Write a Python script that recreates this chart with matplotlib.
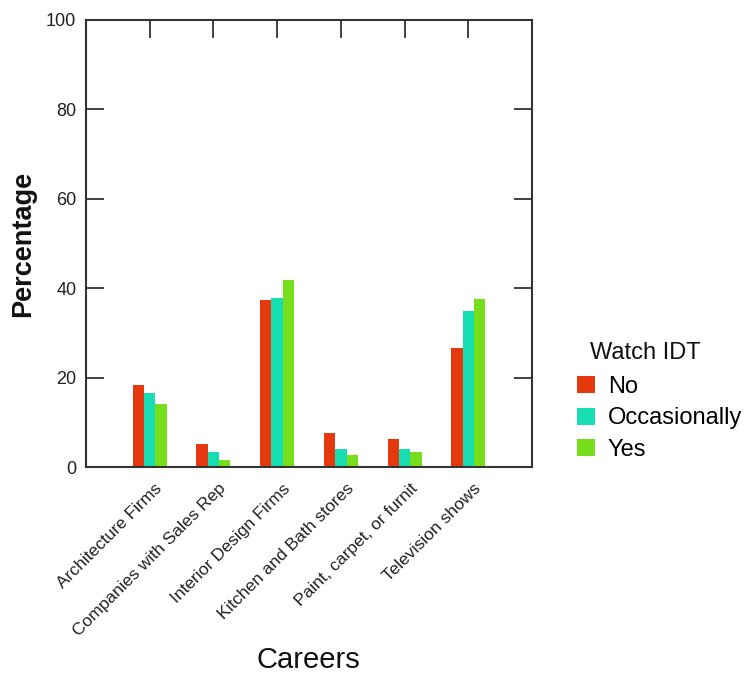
import numpy as np
import matplotlib
matplotlib.use("Agg")
import matplotlib.pyplot as plt
from matplotlib.patches import Patch
import matplotlib.transforms as mtransforms

categories = ["Architecture Firms", "Companies with Sales Rep", "Interior Design Firms",
              "Kitchen and Bath stores", "Paint, carpet, or furnit", "Television shows"]
series_names = ["No", "Occasionally", "Yes"]
no_vals = [18.3, 5.2, 37.3, 7.6, 6.2, 26.6]
occ_vals = [16.5, 3.3, 37.9, 4.1, 4.1, 35.0]
yes_vals = [14.0, 1.6, 41.8, 2.7, 3.3, 37.5]
yticks = [0, 20, 40, 60, 80, 100]
colors = ["#E6380E", "#16DEB2", "#76DE1A"]

plt.rcParams['font.family'] = ['Liberation Sans', 'DejaVu Sans']
fig = plt.figure(figsize=(7.54, 6.75), dpi=100)
ax = fig.add_axes([86/754, 1-467/675, (532-86)/754, (467-20)/675])

x = np.arange(len(categories))
w = 0.178
for i, (vals, c) in enumerate(zip([no_vals, occ_vals, yes_vals], colors)):
    ax.bar(x + (i-1)*w, vals, width=w, color=c, edgecolor='none')

ax.set_xlim(-1, 6)
ax.set_ylim(0, 100)
ax.set_yticks(yticks)
ax.set_xticks(x)
ax.set_xticklabels([])
offset = mtransforms.ScaledTranslation(5/100, -14/100, fig.dpi_scale_trans)
for xi, cat in zip(x, categories):
    ax.text(xi, 0, cat, rotation=45, ha='right', va='top', rotation_mode='anchor',
            fontsize=12.5, color='#222222', transform=ax.transData + offset,
            clip_on=False)

ax.tick_params(axis='x', bottom=False, top=True, direction='in', length=13,
               width=1.3, color='#333333', labelbottom=False, labeltop=False)
ax.tick_params(axis='y', left=True, right=True, direction='in', length=13,
               width=1.3, color='#333333', labelsize=13, labelcolor='#222222', pad=7)
for sp in ax.spines.values():
    sp.set_color('#333333')
    sp.set_linewidth(1.5)

ax.set_ylabel("Percentage", fontsize=19.5, fontweight='bold', color='#111111', labelpad=7)
fig.text(308/754, 1-660/675, "Careers", fontsize=21, ha='center',
         va='center', color='#111111')

fig.text(590/754, 1-353/675, "Watch IDT", fontsize=17, ha='left', va='center',
         color='#111111')
handles = [Patch(facecolor=c, edgecolor='none') for c in colors]
leg = fig.legend(handles, series_names, loc='upper left',
                 bbox_to_anchor=(577/754, 1-376/675), frameon=False, fontsize=17,
                 handlelength=0.75, handleheight=0.75,
                 handletextpad=0.55, labelspacing=0.40,
                 borderaxespad=0, borderpad=0)

fig.savefig("out.png", dpi=100)
